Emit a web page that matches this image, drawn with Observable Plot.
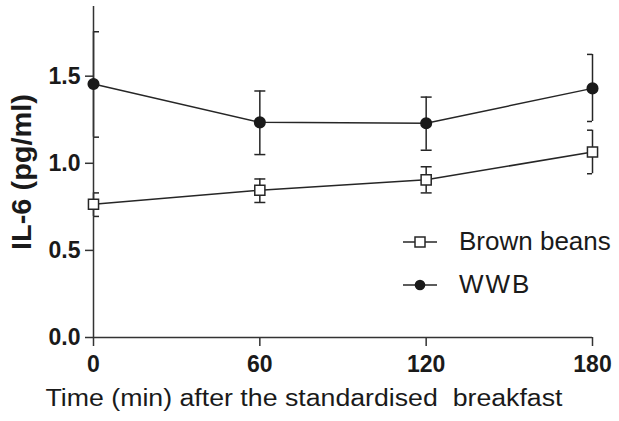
<!DOCTYPE html>
<html>
<head>
<meta charset="utf-8">
<script src="https://cdn.jsdelivr.net/npm/d3@7"></script>
<script src="https://cdn.jsdelivr.net/npm/@observablehq/plot@0.6"></script>
<style>
  body { margin: 0; background: #fff; }
  #wrap { position: relative; width: 619px; height: 421px; font-family: "Liberation Sans", Arial, sans-serif; }
  #legend { position: absolute; left: 401px; top: 220px; font-size: 26px; color: #1a1a1a; }
  .row { display: flex; align-items: center; height: 43px; }
  .row svg { margin-right: 20px; }
</style>
</head>
<body>
<div id="wrap"><div id="legend"></div></div>
<script>
const times = [0, 60, 120, 180];
const series = ["Brown beans", "WWB"];
const brownMean = [0.765, 0.845, 0.905, 1.065];
const brownLo   = [0.695, 0.775, 0.83, 0.94];
const brownHi   = [0.83, 0.91, 0.98, 1.19];
const wwbMean   = [1.455, 1.235, 1.23, 1.43];
const wwbLo     = [1.15, 1.05, 1.075, 1.24];
const wwbHi     = [1.755, 1.415, 1.38, 1.625];
const xTicks = [0, 60, 120, 180];
const yTicks = [0, 0.5, 1.0, 1.5];
const xTitle = "Time (min) after the standardised  breakfast";
const yTitle = "IL-6 (pg/ml)";

const rows = [];
times.forEach((t, i) => {
  rows.push({series: series[0], t, m: brownMean[i], lo: brownLo[i], hi: brownHi[i]});
  rows.push({series: series[1], t, m: wwbMean[i], lo: wwbLo[i], hi: wwbHi[i]});
});
const brown = rows.filter(d => d.series === series[0]);
const wwb = rows.filter(d => d.series === series[1]);

const ink = "#262626";
const capSymbol = {draw(ctx) { ctx.moveTo(-5.5, 0); ctx.lineTo(5.5, 0); }};
const caps = rows.flatMap(d => [{t: d.t, v: d.lo}, {t: d.t, v: d.hi}]);

const chart = Plot.plot({
  width: 619,
  height: 421,
  marginLeft: 93,
  marginRight: 27,
  marginTop: 6,
  marginBottom: 84,
  style: {fontFamily: '"Liberation Sans", Arial, sans-serif', color: "#1a1a1a", background: "#fff", overflow: "visible"},
  x: {domain: [0, 180], ticks: xTicks},
  y: {domain: [0, 1.9], ticks: yTicks},
  marks: [
    Plot.ruleX(rows, {x: "t", y1: "lo", y2: "hi", stroke: ink, strokeWidth: 1.5}),
    Plot.dot(caps, {x: "t", y: "v", symbol: capSymbol, stroke: ink, strokeWidth: 1.5, clip: true}),
    Plot.line(brown, {x: "t", y: "m", stroke: ink, strokeWidth: 1.5}),
    Plot.line(wwb, {x: "t", y: "m", stroke: ink, strokeWidth: 1.5}),
    Plot.axisX({ticks: xTicks, tickSize: 9, tickPadding: 9, fontSize: 23, fontWeight: "bold", label: null, stroke: "#333", strokeWidth: 1.5, tickFormat: d => String(d)}),
    Plot.axisY({ticks: yTicks, tickSize: 8, tickPadding: 5, fontSize: 23, fontWeight: "bold", label: null, stroke: "#333", strokeWidth: 1.5, tickFormat: d3.format(".1f")}),
    Plot.ruleX([0], {stroke: "#333", strokeWidth: 1.5}),
    Plot.ruleY([0], {stroke: "#333", strokeWidth: 1.5}),
    Plot.dot(brown, {x: "t", y: "m", symbol: "square", r: 5.7, fill: "#fff", stroke: ink, strokeWidth: 1.5}),
    Plot.dot(wwb, {x: "t", y: "m", symbol: "circle", r: 5.3, fill: "#1a1a1a", stroke: "#1a1a1a"}),
    Plot.text([yTitle], {className: "ytitle", frameAnchor: "left", text: d => d, rotate: -90, textAnchor: "middle", lineAnchor: "middle", dx: -71, fontSize: 27, fontWeight: "bold", fill: "#1a1a1a"}),
    Plot.text([xTitle], {className: "xtitle", frameAnchor: "bottom-left", text: d => d, textAnchor: "start", lineAnchor: "middle", dx: -48, dy: 61, fontSize: 23, fill: "#1a1a1a"})
  ]
});
document.getElementById("wrap").prepend(chart);
d3.select(chart).selectAll(".xtitle text").attr("textLength", 517).attr("lengthAdjust", "spacingAndGlyphs");
d3.select(chart).selectAll(".ytitle text").attr("textLength", 156).attr("lengthAdjust", "spacingAndGlyphs");

// legend
const legend = d3.select("#legend");
series.forEach((s, i) => {
  const row = legend.append("div").attr("class", "row");
  const svg = row.append("svg").attr("width", 38).attr("height", 20);
  svg.append("line").attr("x1", 2).attr("x2", 36).attr("y1", 10).attr("y2", 10).attr("stroke", ink).attr("stroke-width", 1.5);
  if (i === 0) {
    svg.append("rect").attr("x", 14).attr("y", 5).attr("width", 10).attr("height", 10).attr("fill", "#fff").attr("stroke", ink).attr("stroke-width", 1.5);
  } else {
    svg.append("circle").attr("cx", 19).attr("cy", 10).attr("r", 5.3).attr("fill", "#1a1a1a");
  }
  row.append("span").text(s).style("letter-spacing", i === 1 ? "2px" : null);
});
</script>
</body>
</html>
